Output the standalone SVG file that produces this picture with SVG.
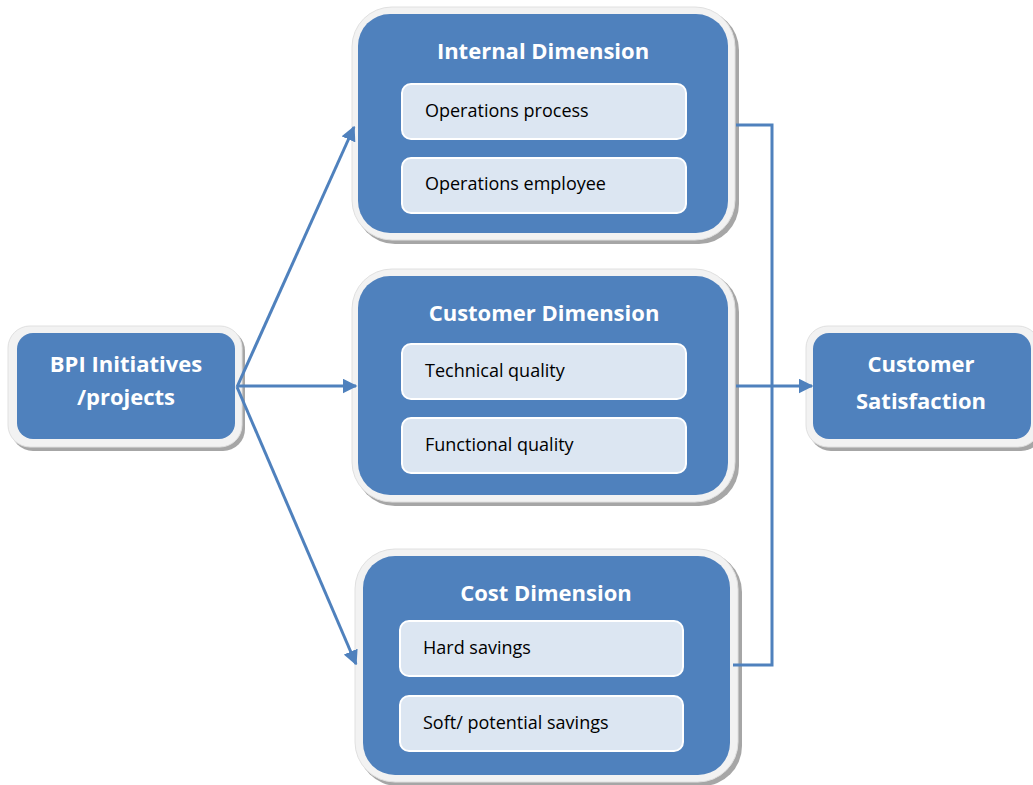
<svg xmlns="http://www.w3.org/2000/svg" width="1033" height="785" viewBox="0 0 1033 785">
<defs>
<marker id="ah" viewBox="0 0 10 10" refX="9" refY="5" markerWidth="5" markerHeight="5" orient="auto" markerUnits="strokeWidth">
<path d="M0,0 L10,5 L0,10 z" fill="#4f81bd"/>
</marker>
</defs>
<style>
.frame{fill:#f2f2f2;stroke:#e0e0e0;stroke-width:1}
.shadow{fill:#a6a6a6}
.blue{fill:#4f81bd}
.item{fill:#dce6f2;stroke:#ffffff;stroke-width:2}
.title{font-family:"Open Sans","Liberation Sans",sans-serif;font-weight:bold;font-size:22px;fill:#ffffff;text-anchor:middle}
.label{font-family:"Open Sans","Liberation Sans",sans-serif;font-size:18px;fill:#000000}
.conn{fill:none;stroke:#4f81bd;stroke-width:3}
</style>
<rect width="1033" height="785" fill="#ffffff"/>
<g id="bpi">
<rect class="shadow" x="11" y="329" width="234" height="122" rx="22"/>
<rect class="frame" x="8" y="326" width="234" height="121" rx="22"/>
<rect class="blue" x="17" y="333" width="218" height="106" rx="16"/>
<text class="title" x="126" y="372">BPI Initiatives</text>
<text class="title" x="126" y="405">/projects</text>
</g>
<g id="internal">
<rect class="shadow" x="355" y="10" width="384" height="234" rx="40"/>
<rect class="frame" x="352" y="7" width="383" height="233" rx="40"/>
<rect class="blue" x="358" y="14" width="370" height="219" rx="32"/>
<text class="title" x="543" y="59">Internal Dimension</text>
<rect class="item" x="402" y="84" width="284" height="55" rx="9"/>
<text class="label" x="425" y="117">Operations process</text>
<rect class="item" x="402" y="158" width="284" height="55" rx="9"/>
<text class="label" x="425" y="190">Operations employee</text>
</g>
<g id="customer">
<rect class="shadow" x="355" y="272" width="384" height="234" rx="40"/>
<rect class="frame" x="352" y="269" width="383" height="233" rx="40"/>
<rect class="blue" x="358" y="276" width="370" height="219" rx="32"/>
<text class="title" x="544" y="321">Customer Dimension</text>
<rect class="item" x="402" y="344" width="284" height="55" rx="9"/>
<text class="label" x="425" y="377">Technical quality</text>
<rect class="item" x="402" y="418" width="284" height="55" rx="9"/>
<text class="label" x="425" y="451">Functional quality</text>
</g>
<g id="cost">
<rect class="shadow" x="358" y="552" width="384" height="234" rx="40"/>
<rect class="frame" x="355" y="549" width="383" height="233" rx="40"/>
<rect class="blue" x="363" y="556" width="367" height="219" rx="32"/>
<text class="title" x="546" y="601">Cost Dimension</text>
<rect class="item" x="400" y="621" width="283" height="55" rx="9"/>
<text class="label" x="423" y="654">Hard savings</text>
<rect class="item" x="400" y="696" width="283" height="55" rx="9"/>
<text class="label" x="423" y="729">Soft/ potential savings</text>
</g>
<g id="satisfaction">
<rect class="shadow" x="809" y="329" width="234" height="122" rx="22"/>
<rect class="frame" x="806" y="326" width="234" height="121" rx="22"/>
<rect class="blue" x="813" y="333" width="218" height="106" rx="16"/>
<text class="title" x="921" y="372">Customer</text>
<text class="title" x="921" y="409">Satisfaction</text>
</g>
<g id="connectors">
<line class="conn" x1="237" y1="387" x2="354" y2="127" marker-end="url(#ah)"/>
<line class="conn" x1="237" y1="386" x2="356" y2="386" marker-end="url(#ah)"/>
<line class="conn" x1="237" y1="387" x2="356" y2="664" marker-end="url(#ah)"/>
<polyline class="conn" points="736,125 772,125 772,665 733,665"/>
<line class="conn" x1="736" y1="386" x2="812" y2="386" marker-end="url(#ah)"/>
</g>
</svg>
